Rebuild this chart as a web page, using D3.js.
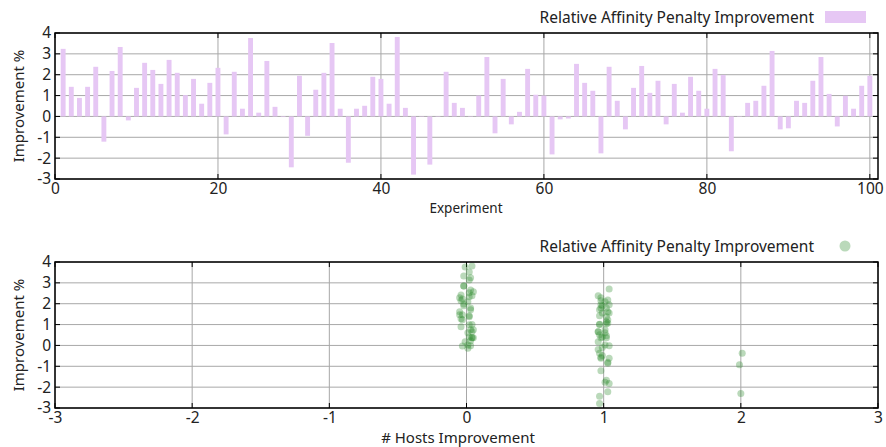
<!DOCTYPE html>
<html>
<head>
<meta charset="utf-8">
<script src="https://cdn.jsdelivr.net/npm/d3@7/dist/d3.min.js"></script>
<style>
    body { margin: 0; background: #fff; }
    svg { display: block; font-family: "Noto Sans", "Open Sans", sans-serif; }
</style>
</head>
<body>
<div id="chart"></div>
<script>
// experiment index 1..100
const experiments = d3.range(1, 101);

// relative affinity penalty improvement (%) per experiment
const improvement = [
    3.24, 1.42, 0.89, 1.42, 2.38, -1.21, 2.18, 3.33, -0.19, 1.37,
    2.57, 2.23, 1.56, 2.71, 2.09, 1.02, 1.80, 0.61, 1.61, 2.33,
    -0.86, 2.14, 0.37, 3.76, 0.18, 2.66, 0.46, -0.03, -2.44, 1.95,
    -0.93, 1.28, 2.09, 3.52, 0.37, -2.22, 0.37, 0.51, 1.90, 1.80,
    0.61, 3.81, 0.41, -2.79, -0.02, -2.31, -0.02, 2.14, 0.65, 0.41,
    0.02, 1.00, 2.85, -0.81, 1.80, -0.38, 0.22, 2.28, 1.04, 1.00,
    -1.82, -0.14, -0.10, 2.52, 1.61, 1.23, -1.77, 2.38, 0.75, -0.62,
    1.37, 2.42, 1.13, 1.71, -0.38, 1.56, 0.18, 1.90, 1.23, 0.37,
    2.28, 1.99, -1.67, 0.02, 0.65, 0.75, 1.47, 3.14, -0.62, -0.57,
    0.75, 0.65, 1.71, 2.85, 1.08, -0.48, 0.99, 0.37, 1.47, 1.95
];

// # hosts improvement per experiment (as plotted, with the small jitter)
const hostsImprovement = [
    0.03, 0.97, -0.04, 0.02, 0.04, 0.98, 1.03, -0.02, 0.96, 1.02,
    0.05, -0.03, 0.99, 1.04, 0.01, 0.97, 0.03, 1.01, -0.05, 0.02,
    1.03, 0.98, 0.04, -0.01, 0.96, 0.03, 1.02, -0.03, 0.97, 1.04,
    1.99, -0.04, 1.01, 0.02, 0.98, 1.03, 0.05, 0.97, -0.02, 1.02,
    0.01, 0.04, 0.99, 0.97, 0.03, 2.00, 1.04, -0.04, 0.96, 0.02,
    1.01, 0.04, -0.02, 1.03, 0.98, 2.01, 0.03, -0.05, 1.02, 0.97,
    1.04, 0.01, 0.99, 0.02, 1.03, -0.03, 1.01, 0.96, 0.05, 0.98,
    0.02, -0.04, 1.02, 0.03, 0.97, 1.04, -0.01, 0.99, 1.03, 0.04,
    0.98, -0.02, 1.02, 0.01, 0.96, 0.03, -0.05, 0.02, 1.04, 0.98,
    1.01, 0.04, 0.97, -0.02, 1.03, 0.99, 0.02, 1.02, -0.03, 0.98
];

const yTicks = [-3, -2, -1, 0, 1, 2, 3, 4];
const barTicks = [0, 20, 40, 60, 80, 100];
const hostTicks = [-3, -2, -1, 0, 1, 2, 3];
const seriesName = "Relative Affinity Penalty Improvement";

const width = 886, height = 447;
const margin = { left: 55, right: 8 };

const svg = d3.select("#chart").append("svg")
    .attr("width", width)
    .attr("height", height);

const gridColor = "#a8a8a8";
const textColor = "#222";
const tickFmt = d => String(d); // plain hyphen minus, no decimals

function drawPanel(top, bottom, xScale, xTicks, xTitle, titleOpts) {
    let yScale = d3.scaleLinear()
        .domain([-3, 4])
        .range([bottom, top]);

    let g = svg.append("g");
    let x0 = xScale.range()[0], x1 = xScale.range()[1];

    // grid
    g.selectAll(".hgrid").data(yTicks).enter().append("line")
        .attr("x1", x0).attr("x2", x1)
        .attr("y1", d => yScale(d)).attr("y2", d => yScale(d))
        .attr("stroke", gridColor).attr("stroke-width", 1);
    g.selectAll(".vgrid").data(xTicks).enter().append("line")
        .attr("y1", top).attr("y2", bottom)
        .attr("x1", d => xScale(d)).attr("x2", d => xScale(d))
        .attr("stroke", gridColor).attr("stroke-width", 1);

    let yAxisL = d3.axisLeft(yScale).tickValues(yTicks).tickFormat(tickFmt).tickSize(0).tickPadding(4);
    let xAxisB = d3.axisBottom(xScale).tickValues(xTicks).tickFormat(tickFmt).tickSize(0).tickPadding(4);

    let yg = g.append("g").attr("transform", `translate(${x0},0)`).call(yAxisL);
    let xg = g.append("g").attr("transform", `translate(0,${bottom})`).call(xAxisB);
    [yg, xg].forEach(a => {
        a.select(".domain").remove();
        a.selectAll("text")
            .style("font-size", "15.5px")
            .style("fill", textColor)
            .style("font-family", "'Noto Sans', sans-serif");
    });
    xg.selectAll("text").attr("dy", "0.71em");

    // tick marks inward, all four sides
    yTicks.forEach(t => {
        g.append("line").attr("x1", x0).attr("x2", x0 + 5)
            .attr("y1", yScale(t)).attr("y2", yScale(t)).attr("stroke", "#000");
        g.append("line").attr("x1", x1).attr("x2", x1 - 5)
            .attr("y1", yScale(t)).attr("y2", yScale(t)).attr("stroke", "#000");
    });
    xTicks.forEach(t => {
        g.append("line").attr("y1", bottom).attr("y2", bottom - 5)
            .attr("x1", xScale(t)).attr("x2", xScale(t)).attr("stroke", "#000");
        g.append("line").attr("y1", top).attr("y2", top + 5)
            .attr("x1", xScale(t)).attr("x2", xScale(t)).attr("stroke", "#000");
    });

    // axis titles
    svg.append("text")
        .attr("transform", `translate(24,${(top + bottom) / 2}) rotate(-90)`)
        .attr("text-anchor", "middle")
        .style("font-size", "15px")
        .style("fill", textColor)
        .text("Improvement %");

    svg.append("text")
        .attr("x", titleOpts.x)
        .attr("y", bottom + titleOpts.dy)
        .attr("text-anchor", "middle")
        .style("font-size", titleOpts.size)
        .style("fill", textColor)
        .text(xTitle);

    return { g: g, yScale: yScale };
}

function drawFrame(top, bottom) {
    svg.append("rect")
        .attr("x", margin.left).attr("y", top)
        .attr("width", width - margin.right - margin.left)
        .attr("height", bottom - top)
        .attr("fill", "none")
        .attr("stroke", "#000")
        .attr("stroke-width", 1.5);
}

function drawLegendText(y) {
    svg.append("text")
        .attr("x", 814).attr("y", y)
        .attr("text-anchor", "end")
        .style("font-size", "15.5px")
        .style("fill", textColor)
        .text(seriesName);
}

// ---------- top: bars per experiment ----------
const topPanel = { top: 33, bottom: 179 };
const xBar = d3.scaleLinear()
    .domain([0, 101])
    .range([margin.left, width - margin.right]);

let p1 = drawPanel(topPanel.top, topPanel.bottom, xBar, barTicks, "Experiment",
    { x: 466, size: "13.5px", dy: 34 });
const barData = experiments.map((e, i) => ({ x: e, y: improvement[i] }));
const barW = 0.6;
const barColor = "#e6c7f4";

p1.g.selectAll(".bar").data(barData).enter().append("rect")
    .attr("class", "bar")
    .attr("x", d => xBar(d.x - barW / 2))
    .attr("width", xBar(barW) - xBar(0))
    .attr("y", d => p1.yScale(Math.max(0, d.y)))
    .attr("height", d => Math.abs(p1.yScale(d.y) - p1.yScale(0)))
    .attr("fill", barColor);

drawFrame(topPanel.top, topPanel.bottom);

drawLegendText(23);
svg.append("rect")
    .attr("x", 825).attr("y", 11)
    .attr("width", 41).attr("height", 12)
    .attr("fill", barColor);

// ---------- bottom: scatter vs hosts improvement ----------
const botPanel = { top: 262, bottom: 408 };
const xHost = d3.scaleLinear()
    .domain([-3, 3])
    .range([margin.left, width - margin.right]);

let p2 = drawPanel(botPanel.top, botPanel.bottom, xHost, hostTicks, "# Hosts Improvement",
    { x: 458, size: "15px", dy: 35 });
const pointData = hostsImprovement.map((h, i) => ({ x: h, y: improvement[i] }));

p2.g.selectAll(".pt").data(pointData).enter().append("circle")
    .attr("class", "pt")
    .attr("cx", d => xHost(d.x))
    .attr("cy", d => p2.yScale(d.y))
    .attr("r", 3.5)
    .attr("fill", "#2e8b2e")
    .attr("fill-opacity", 0.33);

drawFrame(botPanel.top, botPanel.bottom);

drawLegendText(252);
svg.append("circle")
    .attr("cx", 845).attr("cy", 246)
    .attr("r", 5.5)
    .attr("fill", "#2e8b2e")
    .attr("fill-opacity", 0.33);
</script>
</body>
</html>
